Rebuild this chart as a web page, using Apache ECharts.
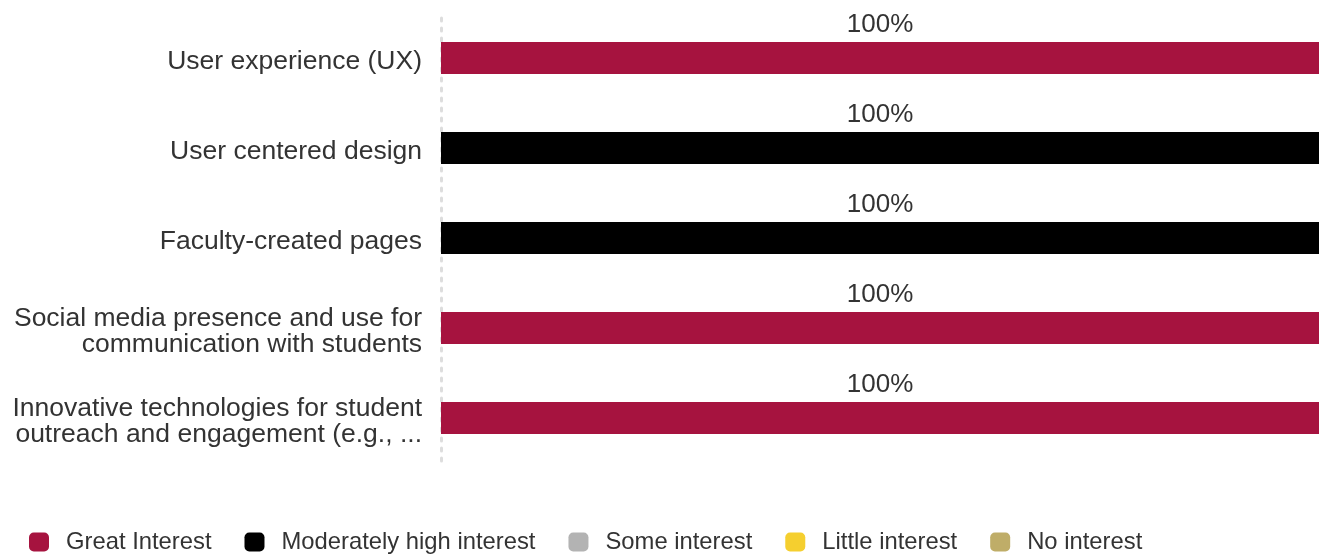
<!DOCTYPE html>
<html>
<head>
<meta charset="utf-8">
<script src="https://cdn.jsdelivr.net/npm/echarts@6/dist/echarts.min.js"></script>
<style>html,body{margin:0;padding:0;background:#fff}#c{width:1327px;height:554px}</style>
</head>
<body>
<div id="c"></div>
<script>
const categories = [
  "User experience (UX)",
  "User centered design",
  "Faculty-created pages",
  "Social media presence and use for\ncommunication with students",
  "Innovative technologies for student\noutreach and engagement (e.g., ..."
];
const seriesNames = ["Great Interest", "Moderately high interest", "Some interest", "Little interest", "No interest"];
const seriesColors = ["#A6133F", "#000000", "#B3B3B3", "#F5CF2F", "#BFAD68"];
const greatInterest = [100, 0, 0, 100, 100];
const moderatelyHigh = [0, 100, 100, 0, 0];
const someInterest = [0, 0, 0, 0, 0];
const littleInterest = [0, 0, 0, 0, 0];
const noInterest = [0, 0, 0, 0, 0];
const values = [greatInterest, moderatelyHigh, someInterest, littleInterest, noInterest];

const font = "Liberation Sans, Arial, sans-serif";
const chart = echarts.init(document.getElementById('c'));
chart.setOption({
  animation: false,
  textStyle: { fontFamily: font },
  grid: [
    { left: 441, right: 8, top: 13, bottom: 91, containLabel: false },
    { left: 441, right: 8, top: 17, bottom: 87, containLabel: false }
  ],
  legend: {
    top: 530, left: 29, padding: 0,
    itemWidth: 20, itemHeight: 19, itemGap: 33,
    icon: 'roundRect',
    textStyle: { fontSize: 23.8, color: '#333', fontFamily: font, lineHeight: 19, padding: [0, 0, 0, 12] },
    data: seriesNames
  },
  xAxis: [
    { type: 'value', min: 0, max: 100, show: false, gridIndex: 0 },
    { type: 'value', min: 0, max: 100, show: false, gridIndex: 1 }
  ],
  yAxis: [
    {
      type: 'category', data: categories, inverse: true, gridIndex: 0,
      axisLine: { show: true, lineStyle: { color: '#DDDDDD', width: 3, type: [3, 7], dashOffset: 5 } },
      axisTick: { show: false },
      axisLabel: { show: false }
    },
    {
      type: 'category', data: categories, inverse: true, gridIndex: 1,
      axisLine: { show: false },
      axisTick: { show: false },
      axisLabel: { fontSize: 26.5, color: '#333', margin: 19, lineHeight: 26, fontFamily: font }
    }
  ],
  series: seriesNames.map((n, i) => ({
    name: n, type: 'bar', stack: 'all', barWidth: 32,
    xAxisIndex: 0, yAxisIndex: 0,
    itemStyle: { color: seriesColors[i] },
    label: {
      show: true, position: 'top', distance: 4,
      fontSize: 26, color: '#333', fontFamily: font,
      formatter: p => p.value > 0 ? p.value + '%' : ''
    },
    data: values[i]
  }))
});
</script>
</body>
</html>
